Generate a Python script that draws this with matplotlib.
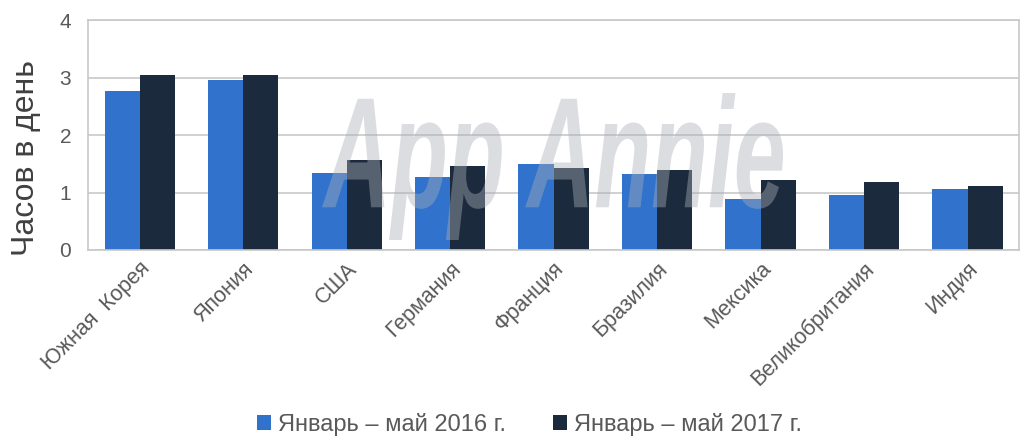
import numpy as np
import matplotlib
matplotlib.use('Agg')
import matplotlib.pyplot as plt
from matplotlib.textpath import TextPath
from matplotlib.patches import PathPatch
from matplotlib.font_manager import FontProperties
from matplotlib.transforms import Affine2D, IdentityTransform

plt.rcParams['font.family'] = ['Liberation Sans', 'DejaVu Sans']

# ----------------------------------------------------------------------
# Data (hours per day)
# ----------------------------------------------------------------------

countries = ['Южная  Корея', 'Япония', 'США', 'Германия', 'Франция',
             'Бразилия', 'Мексика', 'Великобритания', 'Индия']
hours_2016 = [2.76, 2.96, 1.34, 1.27, 1.50, 1.33, 0.88, 0.95, 1.06]
hours_2017 = [3.05, 3.05, 1.56, 1.46, 1.42, 1.39, 1.21, 1.18, 1.12]
label_2016 = 'Январь – май 2016 г.'
label_2017 = 'Январь – май 2017 г.'
yticks = [0, 1, 2, 3, 4]

blue = '#3172cc'
navy = '#1c2a3d'
gray_txt = '#595959'

# ----------------------------------------------------------------------
# Plot
# ----------------------------------------------------------------------

fig = plt.figure(figsize=(10.28, 4.48), dpi=100)
ax = fig.add_axes([0.0856, 0.442, 0.906, 0.513])

x = np.arange(len(countries))
w = 0.34
ax.bar(x - w/2, hours_2016, w, color=blue, label=label_2016, zorder=2)
ax.bar(x + w/2, hours_2017, w, color=navy, label=label_2017, zorder=2)

ax.set_xlim(-0.5, len(countries) - 0.5)
ax.set_ylim(0, 4)
ax.set_yticks(yticks)
ax.yaxis.grid(True, color='#c8c8c8', linewidth=1.2, zorder=0)
ax.set_axisbelow(True)
for s in ax.spines.values():
    s.set_color('#c8c8c8')
    s.set_linewidth(1.2)

ax.tick_params(axis='both', length=0, labelcolor=gray_txt)
ax.tick_params(axis='y', pad=12, labelsize=15)
ax.set_xticks(x)
ax.set_xticklabels(countries, rotation=45, ha='right', va='top',
                   rotation_mode='anchor', fontsize=15.5)
ax.tick_params(axis='x', pad=6)
ax.set_ylabel('Часов в день', fontsize=23, color='#404040')
ax.yaxis.set_label_coords(-0.05, 0.40)

# watermark
tp = TextPath((0, 0), 'App Annie', size=100,
              prop=FontProperties(family='Liberation Sans', style='italic',
                                  weight='bold'))
bb = tp.get_extents()
x0, y0, x1, y1 = 322, 448 - 240, 783, 448 - 93
tr = Affine2D().translate(-bb.x0, -bb.y0).scale((x1 - x0) / bb.width,
                                                 (y1 - y0) / bb.height).translate(x0, y0)
patch = PathPatch(tr.transform_path(tp), facecolor='#aab0b8', edgecolor='none',
                  alpha=0.42, transform=IdentityTransform(), zorder=5)
fig.patches.append(patch)

leg = fig.legend(loc='lower center', bbox_to_anchor=(0.515, -0.02), ncol=2,
                 frameon=False, fontsize=17, handlelength=0.6, handleheight=0.6,
                 handletextpad=0.3, columnspacing=2.0)
for t in leg.get_texts():
    t.set_color(gray_txt)

fig.savefig('out.png', dpi=100)
